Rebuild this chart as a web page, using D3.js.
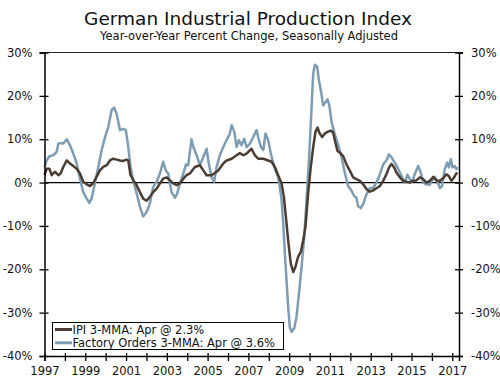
<!DOCTYPE html>
<html><head><meta charset="utf-8">
<script src="https://cdn.jsdelivr.net/npm/d3@7"></script>
<style>body{margin:0;background:#fff}svg{display:block}text{font-family:"DejaVu Sans",Verdana,sans-serif;fill:#111}</style>
</head><body>
<div id="chart"></div>
<script>
const title = "German Industrial Production Index";
const subtitle = "Year-over-Year Percent Change, Seasonally Adjusted";
const seriesNames = ["IPI 3-MMA: Apr @ 2.3%", "Factory Orders 3-MMA: Apr @ 3.6%"];
const yTicks = [30, 20, 10, 0, -10, -20, -30, -40];
const xTickYears = d3.range(1997, 2018);
const xLabelYears = [1997,1999,2001,2003,2005,2007,2009,2011,2013,2015,2017];

const ipiDates = [1997.00,1997.11,1997.24,1997.35,1997.51,1997.68,1997.79,1997.92,1998.09,1998.25,1998.41,1998.58,1998.74,1998.90,1999.07,1999.23,1999.39,1999.55,1999.72,1999.88,2000.05,2000.21,2000.37,2000.54,2000.70,2000.86,2001.03,2001.11,2001.22,2001.38,2001.52,2001.68,2001.84,2002.01,2002.17,2002.33,2002.50,2002.66,2002.82,2002.99,2003.15,2003.32,2003.48,2003.64,2003.81,2003.97,2004.13,2004.38,2004.62,2004.79,2004.95,2005.19,2005.36,2005.52,2005.77,2005.93,2006.18,2006.42,2006.58,2006.75,2006.91,2007.15,2007.32,2007.48,2007.73,2007.97,2008.14,2008.30,2008.46,2008.63,2008.74,2008.84,2008.95,2009.08,2009.20,2009.31,2009.44,2009.57,2009.69,2009.80,2009.93,2010.06,2010.18,2010.29,2010.39,2010.50,2010.62,2010.75,2010.88,2011.04,2011.16,2011.27,2011.37,2011.49,2011.65,2011.81,2011.98,2012.14,2012.30,2012.47,2012.63,2012.79,2012.96,2013.12,2013.28,2013.45,2013.61,2013.77,2013.90,2014.02,2014.15,2014.26,2014.43,2014.59,2014.75,2014.92,2015.08,2015.24,2015.41,2015.57,2015.73,2015.90,2016.06,2016.22,2016.39,2016.55,2016.71,2016.83,2016.96,2017.09,2017.20,2017.25];
const ipiValues = [1.7,3.2,3.2,1.7,2.5,1.7,2.1,3.6,5.1,4.4,3.8,3.2,2.1,0.2,-0.4,-0.8,-0.1,1.3,2.8,3.6,4.0,5.1,5.5,5.3,5.1,5.0,5.3,5.1,1.7,0.4,-0.6,-2.2,-3.7,-4.2,-3.3,-2.2,-1.4,-0.2,0.9,1.2,0.5,-0.2,-0.6,-0.2,0.9,1.7,2.1,3.6,4.0,2.8,1.7,1.7,2.2,2.8,4.4,5.1,5.5,6.3,6.8,6.3,6.7,7.8,6.3,5.5,5.5,5.1,4.8,3.6,1.7,-0.2,-3.3,-7.9,-13.3,-18.7,-20.6,-19.4,-17.1,-16.0,-13.3,-10.2,-2.5,3.6,8.2,11.7,12.7,11.3,10.5,11.3,11.7,12.0,11.5,9.2,7.3,6.9,6.1,4.2,2.7,1.2,0.8,0.4,-0.4,-1.5,-2.1,-1.8,-1.3,-0.8,0.4,1.9,3.5,4.3,3.5,2.3,1.2,0.4,0.2,0.0,0.4,0.5,1.2,0.8,0.0,0.4,1.3,0.5,0.4,1.0,1.9,1.5,0.4,1.2,2.1,2.3];

const foDates = [1997.00,1997.11,1997.24,1997.43,1997.60,1997.68,1997.84,1997.92,1998.09,1998.25,1998.41,1998.58,1998.74,1998.90,1999.07,1999.20,1999.31,1999.47,1999.64,1999.80,1999.97,2000.13,2000.29,2000.41,2000.54,2000.70,2000.86,2000.99,2001.11,2001.22,2001.35,2001.52,2001.68,2001.84,2002.01,2002.17,2002.33,2002.50,2002.66,2002.82,2002.95,2003.07,2003.23,2003.40,2003.51,2003.64,2003.81,2003.94,2004.05,2004.21,2004.30,2004.46,2004.62,2004.79,2004.95,2005.06,2005.19,2005.32,2005.44,2005.60,2005.77,2005.93,2006.09,2006.18,2006.31,2006.42,2006.53,2006.66,2006.80,2006.91,2007.07,2007.24,2007.40,2007.48,2007.61,2007.73,2007.84,2007.97,2008.10,2008.22,2008.33,2008.46,2008.54,2008.63,2008.71,2008.79,2008.87,2008.95,2009.03,2009.12,2009.25,2009.36,2009.48,2009.61,2009.74,2009.85,2009.97,2010.10,2010.18,2010.26,2010.37,2010.46,2010.55,2010.67,2010.78,2010.88,2010.97,2011.08,2011.24,2011.40,2011.57,2011.73,2011.89,2012.06,2012.19,2012.30,2012.38,2012.51,2012.63,2012.79,2012.96,2013.12,2013.28,2013.45,2013.61,2013.77,2013.89,2014.02,2014.18,2014.31,2014.43,2014.54,2014.67,2014.80,2014.92,2015.03,2015.16,2015.33,2015.46,2015.57,2015.73,2015.90,2016.01,2016.14,2016.27,2016.39,2016.50,2016.63,2016.75,2016.83,2016.93,2017.01,2017.12,2017.20,2017.25];
const foValues = [3.6,5.1,6.1,6.3,7.1,9.0,9.1,9.0,10.0,8.6,6.7,4.4,0.9,-2.2,-3.7,-4.7,-3.7,-0.2,3.6,7.4,10.5,12.8,16.7,17.3,15.9,12.1,12.4,12.1,8.2,3.6,0.5,-2.5,-5.6,-7.8,-6.8,-4.8,-1.0,0.2,2.1,4.8,2.8,2.1,-2.2,-3.5,-2.5,-0.2,2.1,4.2,4.0,10.0,8.2,6.3,4.0,5.9,7.8,4.4,1.3,0.2,3.6,6.3,8.2,9.8,11.3,13.2,11.7,8.2,9.8,8.6,10.1,8.2,9.0,10.5,12.1,10.5,8.2,7.5,11.3,9.8,6.7,4.4,2.8,1.3,-1.0,-4.1,-9.4,-16.4,-22.5,-28.6,-33.3,-34.4,-33.6,-31.0,-25.6,-19.4,-12.5,-4.1,5.1,17.4,25.1,27.2,26.8,23.6,21.3,17.8,18.5,19.2,17.8,14.0,11.1,8.8,5.8,2.3,-0.8,-1.9,-3.1,-3.5,-5.4,-5.9,-5.0,-2.7,-1.3,-1.2,0.0,1.9,4.2,5.1,6.5,5.8,4.6,3.5,2.3,1.2,0.0,1.8,0.8,0.2,1.9,3.8,2.3,0.0,-0.4,-0.5,0.4,1.3,0.4,-1.3,-0.8,3.1,4.6,3.5,5.4,3.5,3.8,3.1,3.6];

const W = 500, H = 386;
const ipiColor = "#4b3d33", foColor = "#7e9db2";
const svg = d3.select("#chart").append("svg").attr("width", W).attr("height", H);

const x = d3.scaleLinear().domain([1997, 2017.33]).range([44.5, 459]);
const y = d3.scaleLinear().domain([-40, 30]).range([356, 52.5]);

svg.append("text").attr("x", 248).attr("y", 25).attr("text-anchor", "middle").style("font-size", "18.5px").text(title);
svg.append("text").attr("x", 249).attr("y", 40).attr("text-anchor", "middle").style("font-size", "11.5px").text(subtitle);

// frame top line
svg.append("line").attr("x1", x(1997)).attr("x2", x(2017.33)).attr("y1", y(30)).attr("y2", y(30)).attr("stroke", "#222").attr("stroke-width", 1.2);
// zero line
svg.append("line").attr("x1", x(1997)).attr("x2", x(2017.33)).attr("y1", y(0)).attr("y2", y(0)).attr("stroke", "#000").attr("stroke-width", 1.2);

const line = d3.line().x(d => x(d[0])).y(d => y(d[1]));
const foData = foDates.map((d, i) => [d, foValues[i]]);
const ipiData = ipiDates.map((d, i) => [d, ipiValues[i]]);
svg.append("path").datum(foData).attr("d", line).attr("fill", "none").attr("stroke", foColor).attr("stroke-width", 2.5).attr("stroke-linejoin", "round");
svg.append("path").datum(ipiData).attr("d", line).attr("fill", "none").attr("stroke", ipiColor).attr("stroke-width", 2.5).attr("stroke-linejoin", "round");

// axes
const yAxisL = d3.axisLeft(y).tickValues(yTicks).tickFormat(d => d + "%").tickSize(5).tickPadding(7);
const gl = svg.append("g").attr("transform", `translate(${x(1997)},0)`).call(yAxisL);
const yAxisR = d3.axisRight(y).tickValues(yTicks).tickFormat(d => d + "%").tickSize(4).tickPadding(8);
const gr = svg.append("g").attr("transform", `translate(${x(2017.33)},0)`).call(yAxisR);
const xAxis = d3.axisBottom(x).tickValues(xTickYears).tickFormat(d => xLabelYears.includes(d) ? String(d) : "").tickSize(5).tickPadding(6);
const gx = svg.append("g").attr("transform", `translate(0,${y(-40)})`).call(xAxis);
[gl, gr, gx].forEach(g => {
  g.select(".domain").attr("stroke", "#000").attr("stroke-width", 1.5);
  g.selectAll(".tick line").attr("stroke", "#000").attr("stroke-width", 1.3);
  g.selectAll("text").style("font-size", "11.5px").attr("fill", "#111").style("font-family", "'DejaVu Sans',Verdana,sans-serif");
});
gl.selectAll(".tick line").attr("x2", -5).attr("x1", 4);
gr.selectAll(".tick line").attr("x1", -4).attr("x2", 4);
gx.selectAll(".tick line").attr("y1", -3).attr("y2", 5);

// legend
const lg = svg.append("g");
lg.append("rect").attr("x", 52.5).attr("y", 322.5).attr("width", 231).attr("height", 27).attr("fill", "#fff").attr("stroke", "#000").attr("stroke-width", 1);
const legendColors = [ipiColor, foColor];
seriesNames.forEach((name, i) => {
  const yy = 329.5 + i * 13.3;
  lg.append("line").attr("x1", 55).attr("x2", 72).attr("y1", yy).attr("y2", yy).attr("stroke", legendColors[i]).attr("stroke-width", 3);
  lg.append("text").attr("x", 72.5).attr("y", yy + 4).style("font-size", "11.5px").text(name);
});
</script>
</body></html>
